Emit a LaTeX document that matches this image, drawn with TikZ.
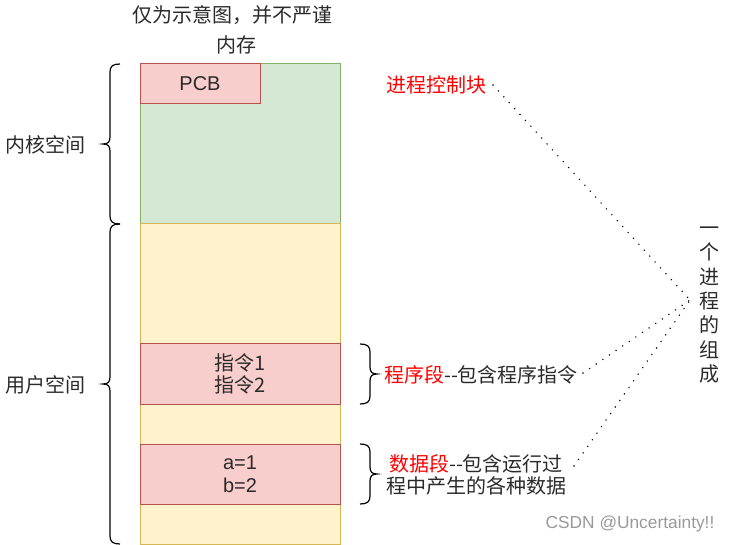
\documentclass[tikz,border=0pt]{standalone}
\usepackage{fontspec}
\setmainfont{Noto Sans CJK SC}
\newfontfamily\lat{Liberation Sans}
\definecolor{txtc}{HTML}{2A2A2A}
\definecolor{grnfill}{HTML}{D5E8D4}
\definecolor{grnline}{HTML}{82B366}
\definecolor{ylwfill}{HTML}{FFF2CC}
\definecolor{ylwline}{HTML}{D6B656}
\definecolor{redfill}{HTML}{F8CECC}
\definecolor{redline}{HTML}{B85450}
\definecolor{wmark}{HTML}{999999}
\definecolor{hired}{HTML}{FF0000}
\begin{document}
\begin{tikzpicture}[x=0.75pt,y=-0.75pt,
  txt/.style={font=\fontsize{15}{17}\selectfont, text=txtc, inner sep=0pt, align=center},
  blk/.style={inner sep=0pt, outer sep=0pt, line width=0.75pt},
  kernbox/.style={blk, draw=grnline, fill=grnfill},
  userbox/.style={blk, draw=ylwline, fill=ylwfill},
  segbox/.style={blk, draw=redline, fill=redfill, txt},
  brace/.style={draw=black, line width=0.9pt},
  dots/.style={draw=black, line width=1.2pt, line cap=round, dash pattern=on 0pt off 6pt}]
\useasboundingbox (0,0) rectangle (732,545);
% titles
\node[txt] (title) at (232,15) {仅为示意图，并不严谨};
\node[txt] (mem) at (236,45) {内存};
% memory column
\node[kernbox, minimum width=150pt, minimum height=120pt] (kernel) at (240,144) {};
\node[userbox, minimum width=150pt, minimum height=240pt] (user) at (240,384) {};
\node[segbox, minimum width=90pt, minimum height=30pt] (pcb) at (200,84) {\lat PCB};
\node[segbox, minimum width=150pt, minimum height=45pt] (code) at (240,374) {指令1\\指令2};
\node[segbox, minimum width=150pt, minimum height=45pt] (data) at (240,474) {\lat a=1\\\lat b=2};
% left labels and braces
\node[txt] (kspace) at (45,145) {内核空间};
\node[txt] (uspace) at (45,385) {用户空间};
\draw[brace] (120,64) .. controls (113,64) and (110,66) .. (110,72) -- (110,137)
  .. controls (110,142) and (108,144) .. (103,144)
  .. controls (108,144) and (110,146) .. (110,151) -- (110,216)
  .. controls (110,222) and (113,224) .. (120,224);
\draw[brace] (120,224) .. controls (113,224) and (110,226) .. (110,232) -- (110,377)
  .. controls (110,382) and (108,384) .. (103,384)
  .. controls (108,384) and (110,386) .. (110,391) -- (110,536)
  .. controls (110,542) and (113,544) .. (120,544);
% right braces
\draw[brace] (360,344) .. controls (367,344) and (370,346) .. (370,352) -- (370,367)
  .. controls (370,372) and (372,374) .. (377,374)
  .. controls (372,374) and (370,376) .. (370,381) -- (370,396)
  .. controls (370,402) and (367,404) .. (360,404);
\draw[brace] (360,444) .. controls (367,444) and (370,446) .. (370,452) -- (370,467)
  .. controls (370,472) and (372,474) .. (377,474)
  .. controls (372,474) and (370,476) .. (370,481) -- (370,496)
  .. controls (370,502) and (367,504) .. (360,504);
% right labels
\node[txt, text=hired] (pcblabel) at (436,85) {进程控制块};
\node[txt] (codelabel) at (481,375) {\textcolor{hired}{程序段}-\kern0pt-包含程序指令};
\node[txt] (datalabel) at (476,475) {\textcolor{hired}{数据段}-\kern0pt-包含运行过\\程中产生的各种数据};
\node[txt, font=\fontsize{15}{18.3}\selectfont] (whole) at (709,305) {一\\个\\进\\程\\的\\组\\成};
\coordinate (conv) at (690,300);
\coordinate (pcbend) at (493,85);
\coordinate (codeend) at (583,373);
\coordinate (dataend) at (574,466);
\draw[dots] (pcbend) -- (conv);
\draw[dots] (codeend) -- (conv);
\draw[dots] (dataend) -- (conv);
% watermark
\node[inner sep=0pt, text=wmark, font=\lat\fontsize{13}{15}\selectfont] (wm) at (630,524) {CSDN @Uncertainty!!};
\end{tikzpicture}
\end{document}
